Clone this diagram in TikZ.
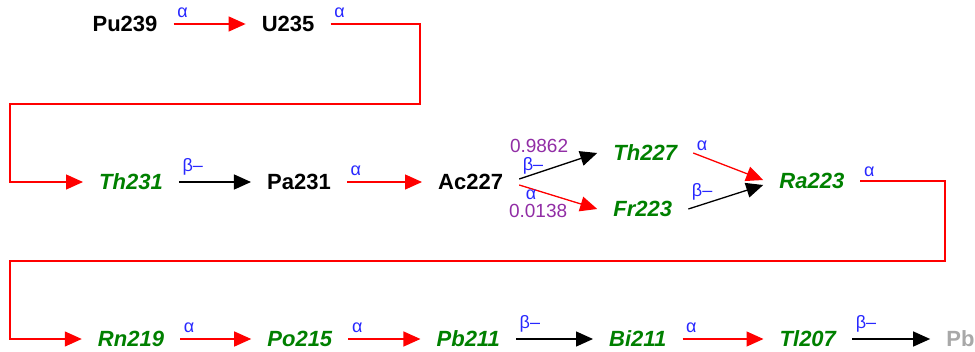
\documentclass[tikz,border=0pt]{standalone}
\usepackage{fontspec}
\setmainfont{Liberation Sans}
\usetikzlibrary{arrows.meta, positioning}

\definecolor{chaingreen}{RGB}{0,128,0}
\definecolor{decayblue}{RGB}{40,40,255}
\definecolor{branchpurple}{RGB}{145,45,165}
\definecolor{stablegray}{RGB}{168,168,168}

\begin{document}
\begin{tikzpicture}[
      x=1pt, y=-1pt,
      iso/.style={inner xsep=16pt, inner ysep=0pt, font=\fontsize{22}{24}\selectfont\bfseries},
      daughter/.style={iso, text=chaingreen, font=\fontsize{22}{24}\selectfont\bfseries\itshape},
      stable/.style={iso, text=stablegray},
      lbl/.style={inner sep=0pt, text=decayblue, font=\fontsize{18}{18}\selectfont, pos=0, anchor=south west, xshift=3pt, yshift=6pt},
      prob/.style={inner sep=0pt, text=branchpurple, font=\fontsize{19}{19}\selectfont},
      alpharr/.style={-{Triangle[length=17pt, width=15pt]}, line width=1.3pt, red},
      betaarr/.style={-{Triangle[length=17pt, width=15pt]}, line width=1.3pt, black}
    ]
    \useasboundingbox (0,0) rectangle (975,351);

    % top row
    \node[iso] (pu239) at (125,24) {Pu239};
    \node[iso, right=72pt of pu239] (u235) {U235};

    % middle row with the Ac227 branch
    \node[daughter] (th231) at (131,182) {Th231};
    \node[iso, right=72pt of th231] (pa231) {Pa231};
    \node[iso, right=75pt of pa231] (ac227) {Ac227};
    \node[daughter, right=78pt of ac227, yshift=29pt] (th227) {Th227};
    \node[daughter, right=78pt of ac227, yshift=-27pt] (fr223) {Fr223};
    \node[daughter, right=70pt of th227, yshift=-28pt] (ra223) {Ra223};

    % bottom row
    \node[daughter] (rn219) at (131,339) {Rn219};
    \node[daughter, right=71pt of rn219] (po215) {Po215};
    \node[daughter, right=72pt of po215] (pb211) {Pb211};
    \node[daughter, right=77pt of pb211] (bi211) {Bi211};
    \node[daughter, right=81pt of bi211] (tl207) {Tl207};
    \node[stable, right=78pt of tl207] (pb) {Pb};

    % corners of the wrap-around lines
    \coordinate (r1) at (420,104);
    \coordinate (l1) at (10,104);
    \coordinate (r2) at (945,261);
    \coordinate (l2) at (10,261);

    \draw[alpharr] (pu239) -- node[lbl] (a1) {α} (u235);
    \draw[alpharr] (u235.east) -| node[lbl] (a2) {α} (r1) -- (l1) |- (th231);

    \draw[betaarr] (th231) -- node[lbl] (b1) {β–} (pa231);
    \draw[alpharr] (pa231) -- node[lbl] (a3) {α} (ac227);

    \draw[betaarr] ([yshift=3pt]ac227.east) -- node[lbl, yshift=-2pt] (b2) {β–} (th227.west);
    \node[prob, above=4pt of b2, xshift=6pt] (p1) {0.9862};
    \draw[alpharr] ([yshift=-3pt]ac227.east) -- node[lbl, anchor=north west, xshift=3pt, yshift=-10pt] (a4) {α} (fr223.west);
    \node[prob, below=4pt of a4, xshift=7pt] (p2) {0.0138};

    \draw[alpharr] (th227.east) -- node[lbl, yshift=-4pt] (a5) {α} ([yshift=1pt]ra223.west);
    \draw[betaarr] (fr223.east) -- node[lbl, yshift=2pt] (b3) {β–} ([yshift=-4pt]ra223.west);
    \draw[alpharr] (ra223.east) -| node[lbl, yshift=-2pt] (a6) {α} (r2) -- (l2) |- (rn219);

    \draw[alpharr] (rn219) -- node[lbl] (a7) {α} (po215);
    \draw[alpharr] (po215) -- node[lbl] (a8) {α} (pb211);
    \draw[betaarr] (pb211) -- node[lbl] (b4) {β–} (bi211);
    \draw[alpharr] (bi211) -- node[lbl] (a9) {α} (tl207);
    \draw[betaarr] (tl207) -- node[lbl] (b5) {β–} (pb);
  \end{tikzpicture}
\end{document}
